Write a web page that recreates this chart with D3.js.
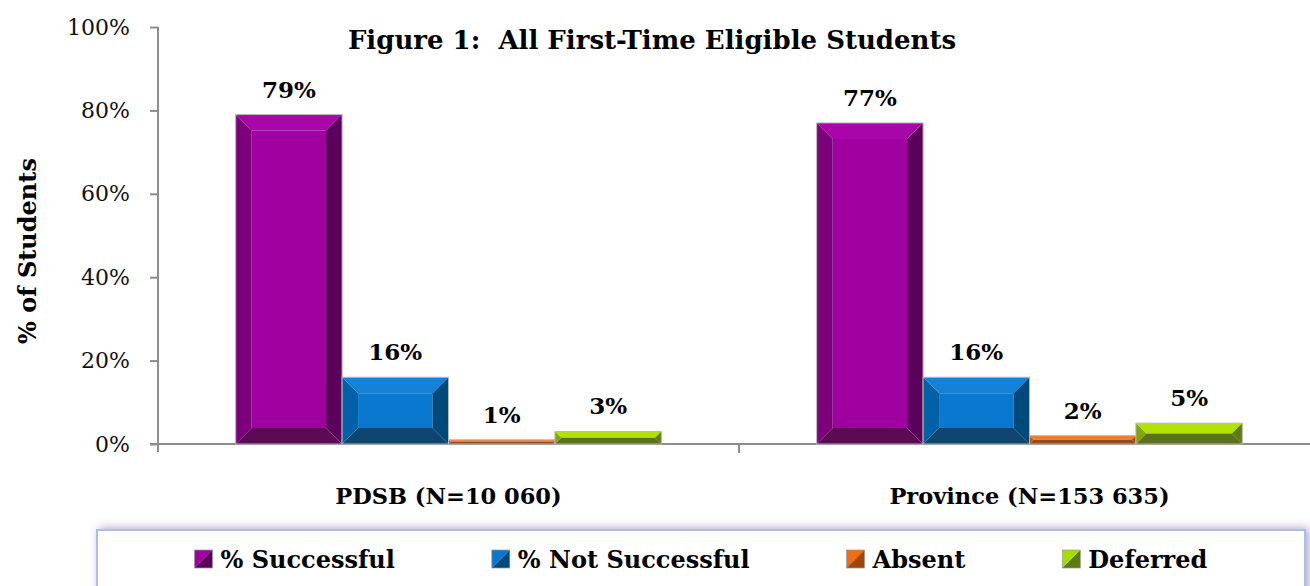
<!DOCTYPE html>
<html>
<head>
<meta charset="utf-8">
<script src="https://cdn.jsdelivr.net/npm/d3@7"></script>
<style>
  body { margin: 0; background: #fff; }
  svg { display: block; font-family: "DejaVu Serif", serif; }
</style>
</head>
<body>
<script>
// - Figure 1 bar chart -

// Data
const groups = ["PDSB (N=10 060)", "Province (N=153 635)"];
const series = ["% Successful", "% Not Successful", "Absent", "Deferred"];
const pdsb = [79, 16, 1, 3];
const province = [77, 16, 2, 5];
const yTicks = [0, 20, 40, 60, 80, 100];

const values = [pdsb, province];

// Chart size
const w = 1310,
      h = 586,
      plotLeft = 158,
      plotRight = 1320,
      plotTop = 27,
      plotBottom = 444,
      bevel = 16;

// Bar colours: face, top, left, right, bottom
const colors = [
  { face: "#a000a0", top: "#a806a8", left: "#7c007b", right: "#5b005b", bottom: "#5d0a55" },
  { face: "#0879cf", top: "#1482d6", left: "#0061a6", right: "#00497b", bottom: "#0f466f" },
  { face: "#f06c10", top: "#f47a20", left: "#c75608", right: "#a04606", bottom: "#9a4a1a" },
  { face: "#a6dc00", top: "#b0e20a", left: "#80a800", right: "#5e7b10", bottom: "#5b7318" }
];

const svg = d3.select("body")
  .append("svg")
  .attr("width", w)
  .attr("height", h);

const defs = svg.append("defs");
const shadow = defs.append("filter")
  .attr("id", "shadow")
  .attr("x", "-5%").attr("y", "-40%")
  .attr("width", "110%").attr("height", "180%");
shadow.append("feDropShadow")
  .attr("dx", 3).attr("dy", -1)
  .attr("stdDeviation", 5)
  .attr("flood-color", "#7a5a9a")
  .attr("flood-opacity", 0.55);

// Scales
const x0 = d3.scaleBand().domain(groups).range([plotLeft, plotRight]);
const x1 = d3.scaleBand().domain(series).range([0, x0.bandwidth()]).paddingOuter(0.73);
const y = d3.scaleLinear().domain([0, 100]).range([plotBottom, plotTop]);

// Title
svg.append("text")
  .attr("x", 652)
  .attr("y", 49)
  .attr("text-anchor", "middle")
  .attr("font-weight", "bold")
  .attr("font-size", 26)
  .style("white-space", "pre")
  .text("Figure 1:  All First-Time Eligible Students");

// Y axis
const yAxis = svg.append("g")
  .attr("transform", "translate(" + plotLeft + ",0)")
  .call(d3.axisLeft(y).tickValues(yTicks).tickFormat(d => d + "%").tickSize(8).tickPadding(20));
yAxis.select(".domain").attr("stroke", "#8c8c8c").attr("stroke-width", 2).attr("d", "M0," + plotTop + "V" + (plotBottom + 8));
yAxis.selectAll(".tick line").attr("stroke", "#8c8c8c").attr("stroke-width", 2);
yAxis.selectAll(".tick text")
  .attr("font-family", "DejaVu Serif, serif")
  .attr("font-size", 22)
  .attr("fill", "#111");

// X axis
svg.append("line")
  .attr("x1", plotLeft - 8).attr("x2", w)
  .attr("y1", plotBottom).attr("y2", plotBottom)
  .attr("stroke", "#8c8c8c").attr("stroke-width", 2);
svg.selectAll(".xtick")
  .data(groups.slice(1))
  .enter()
  .append("line")
  .attr("class", "xtick")
  .attr("x1", d => x0(d)).attr("x2", d => x0(d))
  .attr("y1", plotBottom).attr("y2", plotBottom + 9)
  .attr("stroke", "#8c8c8c").attr("stroke-width", 2);

svg.selectAll(".xlabel")
  .data(groups)
  .enter()
  .append("text")
  .attr("class", "xlabel")
  .attr("x", d => x0(d) + x0.bandwidth() / 2)
  .attr("y", 504)
  .attr("text-anchor", "middle")
  .attr("font-weight", "bold")
  .attr("font-size", 22.5)
  .text(d => d);

// Y title
svg.append("text")
  .attr("transform", "translate(36," + 251 + ") rotate(-90)")
  .attr("text-anchor", "middle")
  .attr("font-weight", "bold")
  .attr("font-size", 24)
  .text("% of Students");

// Bevelled bar
function bar(g, bx, by, bw, bh, c) {
  const b = Math.min(bevel, bw / 2, bh / 2);
  const x2 = bx + bw, y2 = by + bh;
  const poly = (pts, fill) => g.append("polygon")
    .attr("points", pts.map(p => p.join(",")).join(" "))
    .attr("fill", fill);
  poly([[bx + b, by + b], [x2 - b, by + b], [x2 - b, y2 - b], [bx + b, y2 - b]], c.face);
  poly([[bx, by], [x2, by], [x2 - b, by + b], [bx + b, by + b]], c.top);
  poly([[bx, by], [bx + b, by + b], [bx + b, y2 - b], [bx, y2]], c.left);
  poly([[x2, by], [x2, y2], [x2 - b, y2 - b], [x2 - b, by + b]], c.right);
  poly([[bx, y2], [bx + b, y2 - b], [x2 - b, y2 - b], [x2, y2]], c.bottom);
  g.append("rect")
    .attr("x", bx).attr("y", by)
    .attr("width", bw).attr("height", bh)
    .attr("fill", "none")
    .attr("stroke", "#b8b8b8")
    .attr("stroke-width", 1);
}

// Bars
groups.forEach((grp, gi) => {
  series.forEach((s, si) => {
    const v = values[gi][si];
    const bx = x0(grp) + x1(s);
    const g = svg.append("g").attr("class", "bar");
    bar(g, bx, y(v), x1.bandwidth(), y(0) - y(v), colors[si]);
    svg.append("text")
      .attr("x", bx + x1.bandwidth() / 2)
      .attr("y", y(v) - 17)
      .attr("text-anchor", "middle")
      .attr("font-weight", "bold")
      .attr("font-size", 23)
      .text(v + "%");
  });
});

// Legend
svg.append("rect")
  .attr("x", 97).attr("y", 530)
  .attr("width", 1208).attr("height", 80)
  .attr("fill", "#fff")
  .attr("stroke", "#a9c0ea")
  .attr("stroke-width", 2)
  .attr("filter", "url(#shadow)");

const lg = svg.append("g").attr("class", "legend");
const items = lg.selectAll("g")
  .data(series)
  .enter()
  .append("g");

items.each(function(d, i) {
  const g = d3.select(this);
  const c = colors[i];
  const s = 18;
  g.append("polygon").attr("points", [[0, 0], [s, 0], [0, s]].map(p => p.join(",")).join(" ")).attr("fill", c.face);
  g.append("polygon").attr("points", [[s, 0], [s, s], [0, s]].map(p => p.join(",")).join(" ")).attr("fill", c.right);
  g.append("rect").attr("width", s).attr("height", s).attr("fill", "none").attr("stroke", "#999").attr("stroke-width", 0.7);
  g.append("text")
    .attr("x", s + 8)
    .attr("y", s)
    .attr("font-weight", "bold")
    .attr("font-size", 24)
    .text(d);
});

// Lay the items out with equal gaps, centred in the legend box
const gap = 97;
const widths = [];
items.each(function() { widths.push(this.getBBox().width); });
const total = d3.sum(widths) + gap * (widths.length - 1);
let cx = 701 - total / 2;
items.attr("transform", (d, i) => {
  const t = "translate(" + cx + ",550)";
  cx += widths[i] + gap;
  return t;
});
</script>
</body>
</html>
